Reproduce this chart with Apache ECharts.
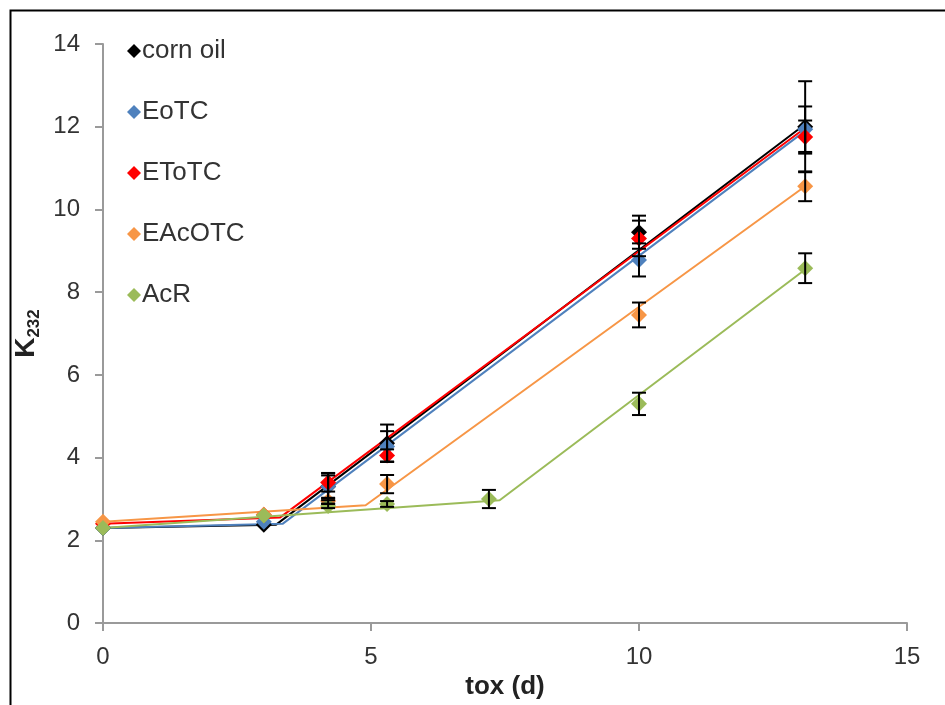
<!DOCTYPE html>
<html><head><meta charset="utf-8">
<script src="https://cdn.jsdelivr.net/npm/echarts@6/dist/echarts.min.js"></script>
<style>html,body{margin:0;padding:0;background:#fff}#c{width:945px;height:705px}</style>
</head><body><div id="c"></div>
<script>
// ---- data ----
const seriesNames = ['corn oil', 'EoTC', 'EToTC', 'EAcOTC', 'AcR'];
const xDays = [0, 3, 4.2, 5.3, 10, 13.1];
const xDaysAcR = [0, 3, 4.2, 5.3, 7.2, 10, 13.1];

const cornOil = [2.3, 2.38, 3.3, 4.35, 9.45, 12.0];
const cornOilErr = [0, 0, 0.33, 0.45, 0.4, 1.1];
const eoTC = [2.3, 2.45, 3.3, 4.27, 8.78, 11.94];
const eoTCErr = [0, 0, 0.27, 0.37, 0.4, 0.55];
const etoTC = [2.4, 2.62, 3.4, 4.05, 9.3, 11.75];
const etoTCErr = [0, 0, 0.22, 0.15, 0.43, 0.4];
const eAcOTC = [2.45, 2.62, 2.95, 3.36, 7.45, 10.56];
const eAcOTCErr = [0, 0, 0.06, 0.22, 0.3, 0.36];
const acR = [2.3, 2.6, 2.83, 2.88, 3.0, 5.3, 8.58];
const acRErr = [0, 0, 0.05, 0.07, 0.22, 0.27, 0.36];

// piecewise trend lines (breakpoints)
const fitXCornOil = [0, 3.23, 13.1];  const fitYCornOil = [2.3, 2.38, 12.06];
const fitXEoTC = [0, 3.35, 13.1];     const fitYEoTC = [2.3, 2.4, 11.9];
const fitXEToTC = [0, 3.3, 13.1];     const fitYEToTC = [2.4, 2.55, 11.97];
const fitXEAcOTC = [0, 4.9, 13.1];    const fitYEAcOTC = [2.45, 2.85, 10.56];
const fitXAcR = [0, 7.4, 13.1];       const fitYAcR = [2.3, 2.97, 8.55];

const xTicks = [0, 5, 10, 15];
const yTicks = [0, 2, 4, 6, 8, 10, 12, 14];

// ---- styling ----
const colors = ['#000000', '#4f81bd', '#ff0000', '#f79646', '#9bbb59'];
const FONT = '"Liberation Sans", Arial, sans-serif';

const groups = [
  {x: xDays, y: cornOil, e: cornOilErr, fx: fitXCornOil, fy: fitYCornOil},
  {x: xDays, y: eoTC, e: eoTCErr, fx: fitXEoTC, fy: fitYEoTC},
  {x: xDays, y: etoTC, e: etoTCErr, fx: fitXEToTC, fy: fitYEToTC},
  {x: xDays, y: eAcOTC, e: eAcOTCErr, fx: fitXEAcOTC, fy: fitYEAcOTC},
  {x: xDaysAcR, y: acR, e: acRErr, fx: fitXAcR, fy: fitYAcR}
];

const zip = (a, b) => a.map((v, i) => [v, b[i]]);

const series = [];
groups.forEach((g, i) => {
  series.push({
    name: seriesNames[i] + ' fit', type: 'line', data: zip(g.fx, g.fy),
    symbol: 'none', silent: true, z: 2,
    lineStyle: {color: colors[i], width: 2}
  });
});
groups.forEach((g, i) => {
  series.push({
    name: seriesNames[i], type: 'scatter', data: zip(g.x, g.y),
    symbol: 'diamond', symbolSize: 16, z: 3,
    itemStyle: {color: colors[i], opacity: 1}
  });
});
groups.forEach((g, i) => {
  series.push({
    name: seriesNames[i] + ' err', type: 'custom', z: 4, silent: true,
    data: g.x.map((x, k) => [x, g.y[k] - g.e[k], g.y[k] + g.e[k], g.e[k]]),
    encode: {x: 0, y: [1, 2]},
    renderItem: function (params, api) {
      if (!(api.value(3) > 0)) return null;
      const lo = api.coord([api.value(0), api.value(1)]);
      const hi = api.coord([api.value(0), api.value(2)]);
      const hw = 7;
      const st = {stroke: '#000', lineWidth: 2};
      return {type: 'group', children: [
        {type: 'line', shape: {x1: lo[0], y1: lo[1], x2: hi[0], y2: hi[1]}, style: st},
        {type: 'line', shape: {x1: lo[0] - hw, y1: lo[1], x2: lo[0] + hw, y2: lo[1]}, style: st},
        {type: 'line', shape: {x1: hi[0] - hw, y1: hi[1], x2: hi[0] + hw, y2: hi[1]}, style: st}
      ]};
    }
  });
});

const chart = echarts.init(document.getElementById('c'), null, {renderer: 'canvas'});
chart.setOption({
  backgroundColor: '#ffffff',
  animation: false,
  graphic: [{
    type: 'rect', left: 8, top: 8, z: 100, silent: true,
    shape: {x: 0, y: 0, width: 1000, height: 1000},
    style: {fill: null, stroke: '#000', lineWidth: 2}
  }],
  grid: {left: 103, right: 38, top: 44, bottom: 77, containLabel: false},
  legend: {
    data: seriesNames, orient: 'vertical', left: 122, top: 31,
    icon: 'diamond', itemWidth: 14, itemHeight: 14, itemGap: 31,
    textStyle: {fontFamily: FONT, fontSize: 26, color: '#333', lineHeight: 30, padding: [0, 0, 0, -4]}
  },
  xAxis: {
    type: 'value', min: xTicks[0], max: xTicks[xTicks.length - 1], interval: 5,
    name: 'tox (d)', nameLocation: 'middle', nameGap: 38,
    nameTextStyle: {fontFamily: FONT, fontWeight: 'bold', fontSize: 26, color: '#222'},
    axisLine: {show: true, onZero: false, lineStyle: {color: '#9a9a9a', width: 2}},
    axisTick: {show: true, length: 8, lineStyle: {color: '#9a9a9a', width: 2}},
    axisLabel: {fontFamily: FONT, fontSize: 24, color: '#333', margin: 22},
    splitLine: {show: false}
  },
  yAxis: {
    type: 'value', min: yTicks[0], max: yTicks[yTicks.length - 1], interval: 2,
    name: '{k|K}{s|232}', nameLocation: 'middle', nameGap: 47, nameRotate: 90,
    nameTextStyle: {rich: {
      k: {fontFamily: FONT, fontWeight: 'bold', fontSize: 28, color: '#222', lineHeight: 32},
      s: {fontFamily: FONT, fontWeight: 'bold', fontSize: 17, color: '#222', verticalAlign: 'bottom', lineHeight: 28}
    }},
    axisLine: {show: true, onZero: false, lineStyle: {color: '#9a9a9a', width: 2}},
    axisTick: {show: true, length: 8, lineStyle: {color: '#9a9a9a', width: 2}},
    axisLabel: {fontFamily: FONT, fontSize: 24, color: '#333', margin: 23},
    splitLine: {show: false}
  },
  series: series
});
</script>
</body></html>
